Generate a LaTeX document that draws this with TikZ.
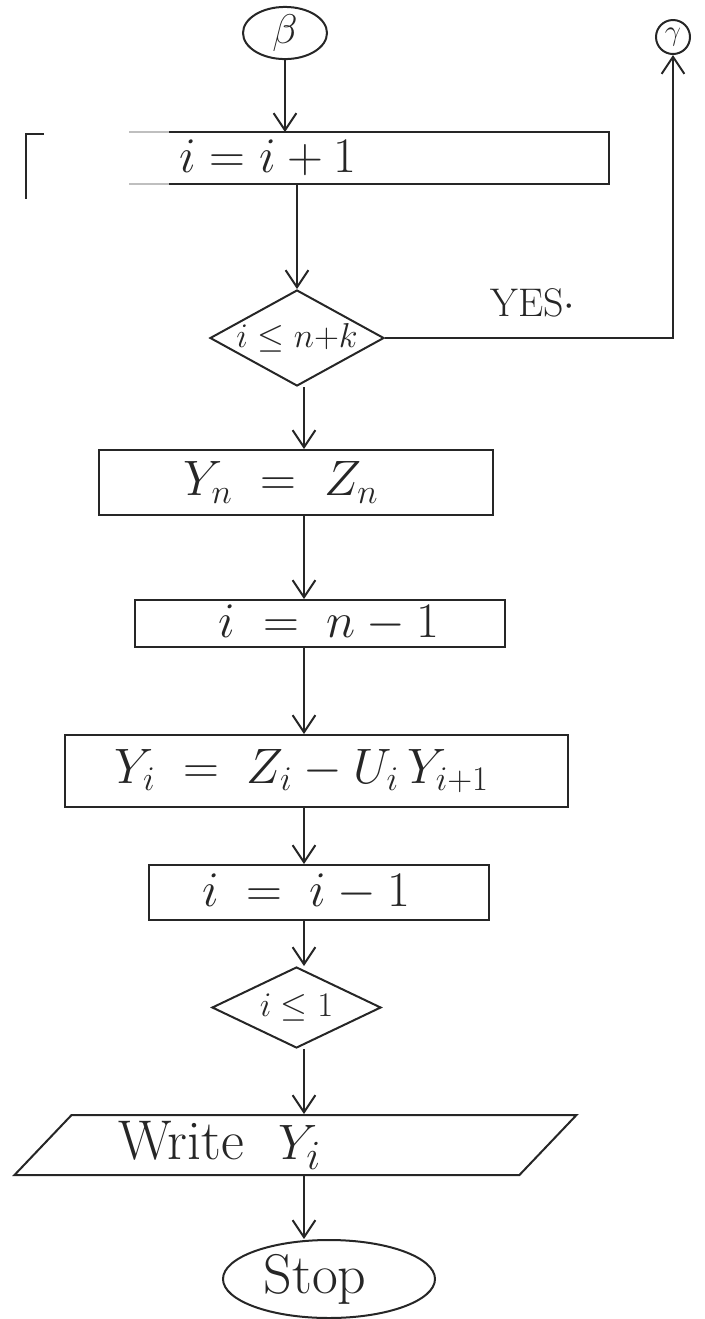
\documentclass[tikz,border=0pt]{standalone}
\usepackage{amsmath,amssymb}
\usepackage{tikz}
\usetikzlibrary{arrows.meta,shapes.geometric,calc}
\newcommand{\hand}{\fontsize{24}{28}\selectfont}
\newcommand{\handbig}{\fontsize{28}{32}\selectfont}
\newcommand{\handsmall}{\fontsize{18}{22}\selectfont}

\begin{document}
\begin{tikzpicture}[
    x=0.5pt, y=-0.5pt,
    line width=1pt, black!85,
    box/.style={draw, rectangle, inner sep=0pt, font=\hand},
    decision/.style={draw, diamond, inner sep=0pt, font=\handsmall},
    terminal/.style={draw, ellipse, inner sep=0pt, font=\hand},
    arrow/.style={-{Straight Barb[length=3mm, width=4mm]}}
]
\useasboundingbox (0,0) rectangle (705,1319);
\coordinate (col) at (304,0);

% Connectors
\node[terminal, minimum width=42pt, minimum height=23pt, font=\fontsize{20}{24}\selectfont] (beta) at (285,33) {$\beta$};
\node[terminal, circle, minimum size=17pt, font=\fontsize{14}{16}\selectfont] (gamma) at (673,37) {$\gamma$};

% Forward loop
\node[box, draw=none, minimum width=290.5pt, minimum height=25pt] (incr) at (317.5,158) {$i = i+1$\hspace*{49.5pt}};
\draw ([xshift=71.5pt]incr.north west) -- (incr.north east) -- (incr.south east) -- ([xshift=71.5pt]incr.south west);
\draw[black!25] ([xshift=51.5pt]incr.north west) -- ([xshift=71.5pt]incr.north west);
\draw[black!25] ([xshift=51.5pt]incr.south west) -- ([xshift=71.5pt]incr.south west);
\draw ([xshift=9pt,yshift=-1pt]incr.north west) -- ([yshift=-1pt]incr.north west) -- ([yshift=-7.5pt]incr.south west);

\node[decision, minimum width=87pt, minimum height=48pt] (chk) at (297,338) {\makebox[0pt]{$i \le n{+}k$}};
\node[font=\fontsize{20}{24}\selectfont] (yes) at (533,303) {YES$\cdot$};

% Back substitution
\node[box, minimum width=197pt, minimum height=32.5pt] (setyn) at (296,482.5) {$Y_n \;=\; Z_n$\hspace*{15pt}};
\node[box, minimum width=185pt, minimum height=23.5pt] (initi) at (320,623.5) {\hspace*{9pt}$i \;=\; n-1$};
\node[box, minimum width=251.5pt, minimum height=36pt] (backsub) at (316.5,771) {$Y_i \;=\; Z_i - U_i\,Y_{i+1}$\hspace*{14.5pt}};
\node[box, minimum width=170pt, minimum height=27.5pt] (decr) at (319,892.5) {$i \;=\; i-1$\hspace*{13pt}};
\node[decision, minimum width=84.5pt, minimum height=40.5pt] (chkend) at (296.5,1007.5) {\makebox[0pt]{$i \le 1$}};

% Output
\node[draw, trapezium, trapezium left angle=47, trapezium right angle=133, trapezium stretches=true,
      minimum width=281.5pt, minimum height=30pt, inner sep=0pt, font=\handbig] (write) at (295.5,1145) {Write\ \ $Y_i$\hspace*{75.5pt}};
\node[terminal, minimum width=106pt, minimum height=39pt, font=\handbig] (stop) at (329,1279) {Stop\hspace*{14pt}};

% Arrows
\draw[arrow] (beta) -- (beta |- incr.north);
\draw[arrow] (incr.south -| chk.north) -- (chk.north);
\draw[arrow] (chk.east) -- (chk.east -| gamma) -- (gamma);
\draw[arrow] (chk.south -| col) -- (setyn.north -| col);
\draw[arrow] (setyn.south -| col) -- (initi.north -| col);
\draw[arrow] (initi.south -| col) -- (backsub.north -| col);
\draw[arrow] (backsub.south -| col) -- (decr.north -| col);
\draw[arrow] (decr.south -| col) -- (chkend.north -| col);
\draw[arrow] (chkend.south -| col) -- (write.north -| col);
\draw[arrow] (write.south -| col) -- (stop.north -| col);

\end{tikzpicture}
\end{document}
